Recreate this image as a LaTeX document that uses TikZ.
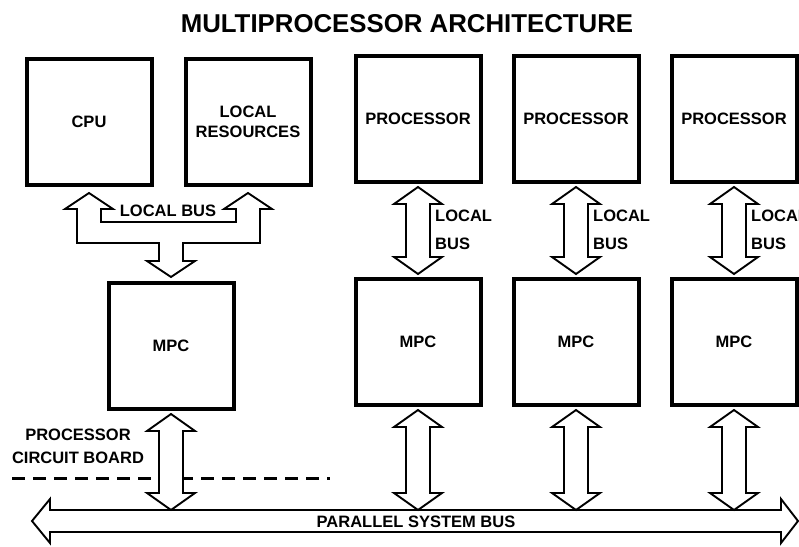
\documentclass[tikz,border=0pt]{standalone}
\usepackage{fontspec}
\setmainfont{Liberation Sans}
\usepackage{tikz}
\usetikzlibrary{calc}
\newcommand{\lblfont}{\fontsize{16.5}{20}\selectfont\bfseries}
\newcommand{\vbus}[2]{\draw[busline] (#1) -- ($(#1)+(24,17)$) -- ($(#1)+(12,17)$) -- ($(#2)+(12,-17)$) -- ($(#2)+(24,-17)$) -- (#2) -- ($(#2)+(-24,-17)$) -- ($(#2)+(-12,-17)$) -- ($(#1)+(-12,17)$) -- ($(#1)+(-24,17)$) -- cycle;}
\tikzset{box/.style={draw,line width=4pt,minimum width=125pt,minimum height=126pt,inner sep=0pt,align=center,font=\lblfont},
busline/.style={draw,fill=white,line width=1.9pt,line join=miter},
txt/.style={font=\lblfont,inner sep=0pt}}
\begin{document}
\begin{tikzpicture}[x=1pt,y=-1pt]
\useasboundingbox (0,0) rectangle (799,546);
\node[font=\fontsize{25.8}{30}\selectfont\bfseries] (title) at (407,24) {MULTIPROCESSOR ARCHITECTURE};
\node[box] (cpu) at (89,122) {CPU};
\node[box] (lr) at (248,122) {LOCAL\\RESOURCES};
\node[box] (m1) at (171,346) {MPC};
\foreach \i/\x in {2/418,3/576,4/734}{
    \node[box] (p\i) at (\x,119) {PROCESSOR};
    \node[box] (m\i) at (\x,342) {MPC};
}
\coordinate (d1) at (12,478);
\coordinate (d2) at (330,478);
\draw[line width=3pt,dash pattern=on 13pt off 8pt] (d1) -- (d2);
\coordinate (bl) at (32,521);
\coordinate (br) at (798,521);
\draw[busline] (bl) -- ++(18,-22) -- ++(0,11) -- ($(br)+(-17,-11)$) -- ++(0,-11) -- (br) -- ++(-17,22) -- ++(0,-11) -- ($(bl)+(18,11)$) -- ++(0,11) -- cycle;
\node[txt] (pbus) at (416,522) {PARALLEL SYSTEM BUS};
\coordinate (lt) at ($(cpu.south)+(0,6)$);
\coordinate (rt) at ($(lr.south)+(0,6)$);
\coordinate (dt) at ($(m1.north)+(0,-4)$);
\draw[busline] (lt) -- ($(lt)+(24,16)$) -- ($(lt)+(12,16)$) |- ($(rt)+(-12,29)$) -- ($(rt)+(-12,16)$) -- ($(rt)+(-24,16)$) -- (rt) -- ($(rt)+(24,16)$) -- ($(rt)+(12,16)$) -- ($(rt)+(12,50)$) -| ($(dt)+(12,-16)$) -- ($(dt)+(24,-16)$) -- (dt) -- ($(dt)+(-24,-16)$) -- ($(dt)+(-12,-16)$) |- ($(lt)+(-12,50)$) -- ($(lt)+(-12,16)$) -- ($(lt)+(-24,16)$) -- cycle;
\node[txt] (lbus) at (168,211) {LOCAL BUS};
\node[txt,align=center] (pcb) at (78,446) {PROCESSOR\\[3pt]CIRCUIT BOARD};
\coordinate (c1) at ($(m1.south)+(0,3)$);
\coordinate (s1) at ($(m1.south |- bl)+(0,-11)$);
\vbus{c1}{s1}
\foreach \i in {2,3,4}{
    \coordinate (a\i) at ($(p\i.south)+(0,3)$);
    \coordinate (b\i) at ($(m\i.north)+(0,-3)$);
    \vbus{a\i}{b\i}
    \node[txt,anchor=west,align=left] (lb\i) at ($(p\i.south)+(17,46)$) {LOCAL\\[8pt]BUS};
    \coordinate (c\i) at ($(m\i.south)+(0,3)$);
    \coordinate (s\i) at ($(m\i.south |- bl)+(0,-11)$);
    \vbus{c\i}{s\i}
}
\end{tikzpicture}
\end{document}
